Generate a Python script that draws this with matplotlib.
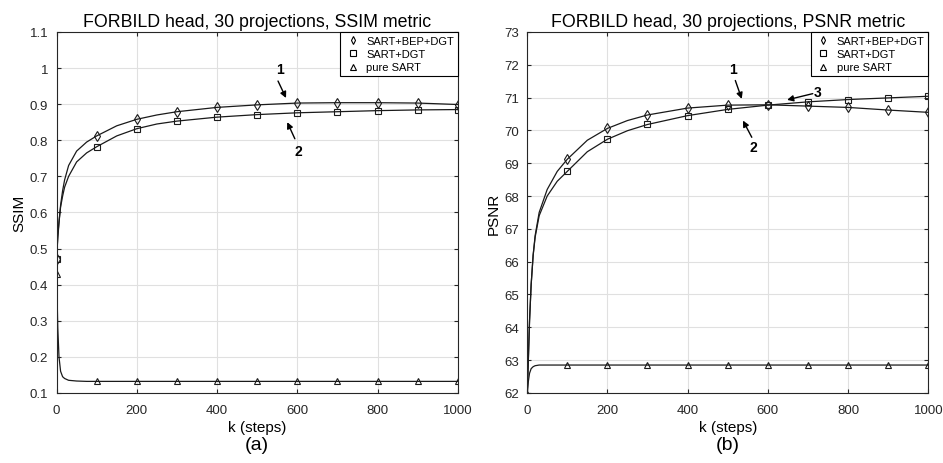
import numpy as np
import matplotlib
matplotlib.use("Agg")
import matplotlib.pyplot as plt
from matplotlib.lines import Line2D

plt.rcParams['font.family'] = ['Liberation Sans', 'DejaVu Sans']

k_vals = [0, 3, 6, 10, 15, 20, 30, 50, 75, 100, 150, 200, 250, 300, 400, 500,
          600, 700, 800, 900, 1000]

# SSIM
ssim_bep = [0.47, 0.53, 0.57, 0.62, 0.66, 0.69, 0.73, 0.77, 0.795, 0.812, 0.840,
            0.858, 0.870, 0.879, 0.891, 0.898, 0.903, 0.904, 0.904, 0.903, 0.899]
ssim_dgt = [0.47, 0.535, 0.575, 0.615, 0.645, 0.67, 0.70, 0.74, 0.765, 0.782, 0.812,
            0.832, 0.845, 0.853, 0.864, 0.871, 0.876, 0.879, 0.882, 0.884, 0.885]
ssim_sart = [0.43, 0.28, 0.20, 0.16, 0.145, 0.14, 0.135, 0.133, 0.132, 0.132, 0.132,
             0.132, 0.132, 0.132, 0.132, 0.132, 0.132, 0.132, 0.132, 0.132, 0.132]

# PSNR
psnr_bep = [61.9, 63.0, 64.2, 65.3, 66.2, 66.8, 67.5, 68.2, 68.75, 69.12, 69.70,
            70.06, 70.30, 70.47, 70.68, 70.77, 70.78, 70.74, 70.70, 70.62, 70.55]
psnr_dgt = [61.9, 63.0, 64.2, 65.3, 66.2, 66.75, 67.4, 68.0, 68.45, 68.75, 69.35,
            69.73, 69.99, 70.18, 70.45, 70.64, 70.77, 70.87, 70.94, 70.99, 71.04]
psnr_sart = [61.9, 62.35, 62.6, 62.74, 62.8, 62.83, 62.85, 62.85, 62.85, 62.85, 62.85,
             62.85, 62.85, 62.85, 62.85, 62.85, 62.85, 62.85, 62.85, 62.85, 62.85]

labels = ['SART+BEP+DGT', 'SART+DGT', 'pure SART']
markers = ['d', 's', '^']

fig = plt.figure(figsize=(9.43, 4.64), dpi=100)
ax1 = fig.add_axes([0.060, 0.151, 0.4254, 0.778])
ax2 = fig.add_axes([0.559, 0.151, 0.4254, 0.778])

k = np.array(k_vals)
mark_idx = list(np.where(k % 100 == 0)[0])
gray = '#262626'


def draw_panel(ax, series, title, ylabel, ylim, yticks, tag):
    for vals, m in zip(series, markers):
        ax.plot(k, vals, color='#1a1a1a', lw=0.9, marker=m, markevery=mark_idx,
                markersize=5 if m != 's' else 4.3, mfc='none', mec='#1a1a1a', mew=0.8)
    ax.set_xlim(0, 1000)
    ax.set_ylim(*ylim)
    ax.set_xticks(range(0, 1001, 200))
    ax.set_yticks(yticks)
    ax.grid(True, color='#e0e0e0', lw=0.8)
    ax.set_axisbelow(True)
    ax.tick_params(direction='in', top=True, right=True, labelsize=9.5,
                   colors=gray, length=3)
    ax.tick_params(axis='x', pad=8)
    ax.tick_params(axis='y', pad=6)
    for s in ax.spines.values():
        s.set_color(gray)
        s.set_linewidth(0.8)
    ax.set_title(title, fontsize=12.8, pad=4)
    ax.set_ylabel(ylabel, fontsize=11, labelpad=2)
    ax.set_xlabel('k (steps)', fontsize=11, labelpad=3)
    ax.text(0.5, -0.142, tag, transform=ax.transAxes, ha='center', va='center',
            fontsize=14)
    handles = [Line2D([], [], ls='none', marker=m, mfc='none', mec='k',
                      markersize=4, mew=0.8) for m in markers]
    leg = ax.legend(handles, labels, loc='upper right', fontsize=8,
                    fancybox=False, framealpha=1, borderaxespad=0,
                    handletextpad=0.4, handlelength=1.6, labelspacing=0.3,
                    borderpad=0.35)
    leg.get_frame().set_edgecolor('k')
    leg.get_frame().set_linewidth(0.8)


draw_panel(ax1, [ssim_bep, ssim_dgt, ssim_sart],
           'FORBILD head, 30 projections, SSIM metric', 'SSIM', (0.1, 1.1),
           [0.1, 0.2, 0.3, 0.4, 0.5, 0.6, 0.7, 0.8, 0.9, 1.0, 1.1], '(a)')
ax1.set_yticklabels(['0.1', '0.2', '0.3', '0.4', '0.5', '0.6', '0.7', '0.8',
                     '0.9', '1', '1.1'])
draw_panel(ax2, [psnr_bep, psnr_dgt, psnr_sart],
           'FORBILD head, 30 projections, PSNR metric', 'PSNR', (62, 73),
           range(62, 74), '(b)')

arrow = dict(arrowstyle='-|>', color='k', lw=1.0, mutation_scale=9,
             shrinkA=0, shrinkB=0)
ax1.annotate('', xy=(572, 0.917), xytext=(552, 0.964), arrowprops=arrow)
ax1.text(556, 0.998, '1', fontsize=10, fontweight='bold', ha='center', va='center')
ax1.annotate('', xy=(575, 0.85), xytext=(594, 0.804), arrowprops=arrow)
ax1.text(602, 0.771, '2', fontsize=10, fontweight='bold', ha='center', va='center')

ax2.annotate('', xy=(535, 70.96), xytext=(519, 71.52), arrowprops=arrow)
ax2.text(514, 71.87, '1', fontsize=10, fontweight='bold', ha='center', va='center')
ax2.annotate('', xy=(538, 70.30), xytext=(560, 69.79), arrowprops=arrow)
ax2.text(563, 69.48, '2', fontsize=10, fontweight='bold', ha='center', va='center')
ax2.annotate('', xy=(648, 70.93), xytext=(712, 71.12), arrowprops=arrow)
ax2.text(724, 71.16, '3', fontsize=10, fontweight='bold', ha='center', va='center')

fig.savefig('out.png', dpi=100)
